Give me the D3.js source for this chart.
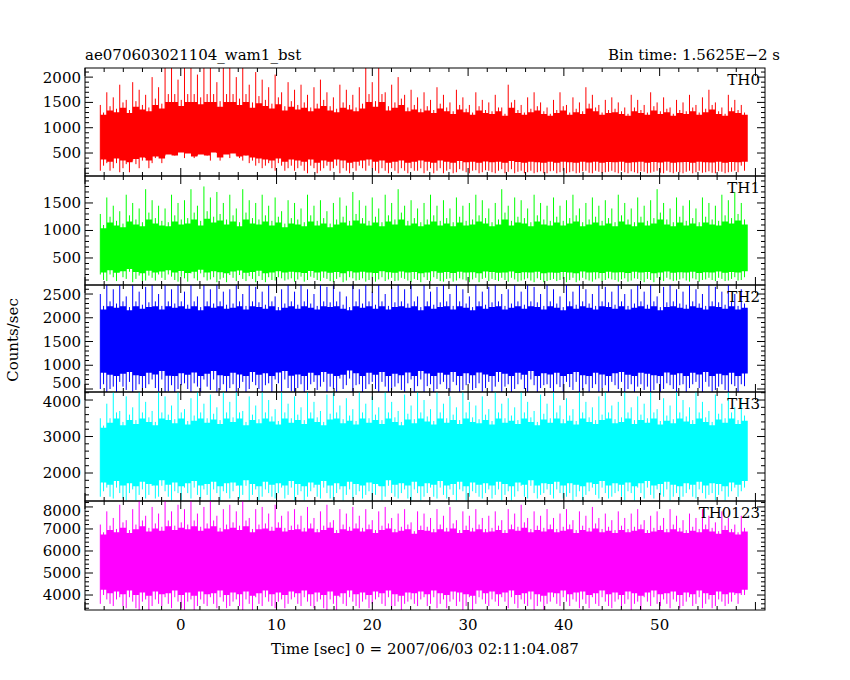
<!DOCTYPE html>
<html><head><meta charset="utf-8">
<script src="https://cdn.jsdelivr.net/npm/d3@7"></script>
<style>body{margin:0;background:#fff}text{font-family:"DejaVu Serif",serif;font-size:15px;fill:#000}</style>
</head><body><svg id="c" width="850" height="680"></svg>
<script>
const panelNames = ["TH0","TH1","TH2","TH3","TH0123"];
const panelColors = ["#ff0000","#00ff00","#0000ff","#00ffff","#ff00ff"];
const yDomains = [[46,2180],[9,1990],[437,2690],[1233,4220],[3320,8270]];
const yTicks = [[500,1000,1500,2000],[500,1000,1500],[500,1000,1500,2000,2500],[2000,3000,4000],[4000,5000,6000,7000,8000]];
const yMinorStep = [100,100,100,200,200];
const coreBands = [[450,1150],[330,900],[1000,2000],[1900,3100],[4400,6500]];
const xTicks = [0,10,20,30,40,50];
const tStart = -8.4, tStep = 0.676;
const hi0=[1450,1700,1600,1850,1550,1900,1750,1650,2000,1800,2180,2180,1950,2180,2180,2050,2180,2180,1900,2180,2180,2000,2180,1850,2100,1950,1800,2050,1700,1900,1750,1850,1650,1800,1950,1700,1600,1850,1750,1650,1800,2180,1900,2180,1700,1850,2000,1650,1750,1600,1700,1550,1800,1650,1500,1750,1600,1450,1700,1550,1500,1650,1400,1850,1550,1450,1600,1700,1500,1400,1550,1700,1450,1600,1500,1800,1650,1450,1550,1600,1500,1400,1650,1550,1450,1700,1500,1600,1400,1550,1500,1650,1450,1600,1750,1500,1400,1650,1550,1450];
const lo0=[250,150,300,200,120,280,350,200,400,300,500,450,600,550,400,500,450,600,350,500,550,400,450,350,300,250,200,300,150,250,200,150,250,100,200,150,250,200,100,150,200,250,150,200,100,150,200,100,150,200,150,100,200,150,100,180,120,150,100,160,120,150,100,180,130,100,150,120,100,140,100,150,120,100,140,110,150,100,130,120,150,100,120,140,100,130,110,150,100,120,130,100,150,120,110,140,100,130,120,150];
const hi1=[1300,1600,1450,1350,1650,1500,1400,1750,1550,1450,1400,1650,1500,1550,1750,1450,1800,1600,1700,1500,1650,1400,1750,1550,1500,1650,1450,1600,1350,1550,1500,1400,1650,1450,1550,1350,1500,1600,1450,1700,1550,1450,1600,1400,1650,1500,1750,1450,1550,1400,1500,1650,1450,1550,1400,1600,1450,1500,1650,1550,1400,1500,1750,1450,1600,1550,1400,1650,1500,1450,1600,1450,1550,1650,1400,1500,1600,1450,1550,1400,1650,1500,1400,1600,1450,1550,1750,1500,1400,1600,1450,1550,1400,1600,1500,1450,1650,1550,1700,1500];
const lo1=[100,200,80,150,250,120,60,180,90,140,200,100,160,70,130,220,90,150,110,60,140,190,80,120,170,60,100,150,90,130,110,70,160,100,140,80,120,60,150,90,130,100,70,150,110,80,140,90,120,60,100,150,80,120,70,130,90,110,60,140,120,80,100,140,70,110,90,130,60,100,80,120,100,60,140,90,110,70,130,100,110,70,130,90,120,60,100,140,80,110,90,130,70,110,100,140,80,120,90,150];
const hi2=[2500,2690,2600,2690,2450,2690,2550,2650,2690,2500,2690,2600,2690,2550,2690,2450,2690,2600,2690,2550,2600,2690,2500,2690,2650,2550,2690,2450,2600,2690,2550,2690,2600,2500,2690,2650,2690,2550,2450,2690,2600,2690,2550,2690,2500,2650,2690,2600,2690,2450,2690,2550,2650,2690,2500,2690,2600,2450,2690,2550,2650,2690,2500,2600,2690,2550,2690,2650,2500,2690,2600,2450,2690,2550,2690,2600,2500,2690,2650,2550,2690,2500,2600,2690,2550,2690,2450,2650,2690,2600,2550,2690,2600,2500,2690,2650,2550,2690,2500,2600];
const lo2=[600,500,437,550,650,480,437,600,520,700,450,437,580,500,620,437,550,700,480,437,600,520,437,650,500,580,437,620,700,450,520,437,600,480,650,550,437,500,720,580,437,600,500,650,437,550,480,620,437,700,560,437,600,500,650,437,580,480,620,520,437,650,550,437,600,500,700,437,580,520,600,437,540,650,480,437,600,520,437,580,650,500,437,600,550,480,437,620,500,580,437,600,520,650,437,550,480,600,437,560];
const hi3=[3500,3900,4220,3700,4100,3800,4220,3950,3700,4220,4100,3850,4220,3750,4050,4220,3900,4150,3800,4220,3950,4220,3700,4100,3850,4220,4000,3750,4220,3900,4100,3800,4220,3950,3700,4150,4220,3850,4050,3750,4220,3900,4100,3800,4220,3950,3700,4150,3850,4220,4000,3750,4220,3900,4100,3800,4220,3950,3850,4100,3750,4220,3900,4050,3800,4220,3950,3700,4150,3900,4220,3850,4050,3750,4220,3950,3800,4100,4220,3850,3950,4220,3800,4100,3900,4220,3750,4050,3850,4220,4000,3800,4220,3950,3700,4150,3900,4220,3800,4050];
const lo3=[1500,1350,1600,1300,1450,1250,1550,1400,1300,1650,1350,1500,1250,1450,1600,1300,1400,1550,1250,1450,1500,1300,1650,1400,1250,1550,1350,1450,1300,1600,1400,1250,1500,1350,1600,1300,1450,1250,1550,1400,1300,1500,1400,1250,1650,1350,1450,1300,1550,1250,1450,1350,1600,1300,1400,1550,1250,1500,1350,1450,1300,1550,1400,1250,1500,1350,1650,1300,1450,1400,1550,1300,1450,1350,1250,1500,1400,1600,1300,1450,1350,1500,1250,1450,1600,1300,1400,1550,1350,1250,1450,1350,1550,1300,1450,1400,1250,1500,1350,1600];
const hi4=[7200,7800,7500,8100,7400,7900,8270,7600,8000,7700,8270,7800,8100,7900,8270,7700,8000,8270,7600,7900,8100,7800,8270,7500,7900,8000,7700,8100,7600,7800,7900,7600,8000,7500,7800,8100,7400,7900,7700,8000,7600,7900,7400,7800,8000,7500,7700,7900,7300,7800,7700,7500,7900,7600,8000,7400,7800,7600,7900,7500,7600,7800,7400,7900,7700,8100,7500,7800,7600,7900,7500,7700,7900,7400,7800,7600,8000,7500,7700,7400,7800,7500,7700,7900,7400,7600,7800,7500,7900,7600,7400,7700,7500,7900,7600,7300,7800,7500,7200,7600];
const lo4=[4000,3600,3800,3500,3900,3400,3700,3320,3800,3500,3600,3900,3400,3700,3320,3800,3500,3600,3900,3400,3700,3500,3800,3320,3600,3900,3500,3700,3400,3800,3600,3900,3500,3700,3400,3800,3320,3600,3900,3500,3700,3400,3800,3600,3900,3500,3320,3700,3600,3800,3500,3900,3600,3400,3800,3700,3500,3320,3900,3600,3800,3500,3700,3900,3400,3600,3800,3500,3320,3700,3600,3900,3500,3700,3800,3400,3600,3900,3500,3700,3400,3800,3600,3320,3700,3900,3500,3600,3800,3400,3700,3500,3900,3600,3400,3800,3500,3700,3600,4000];
const highs=[hi0,hi1,hi2,hi3,hi4], lows=[lo0,lo1,lo2,lo3,lo4];

const svg=d3.select("#c");
const L=85,R=765;
const panelEdges=[68,176,285,392,501,610];
const x=d3.scaleLinear().domain([-10.0,61.0]).range([L,R]);
const xMinor=d3.range(-10,62,2);

panelNames.forEach((name,p)=>{
  const top=panelEdges[p], bot=panelEdges[p+1];
  const y=d3.scaleLinear().domain(yDomains[p]).range([bot,top]).clamp(true);
  const g=svg.append("g");
  const clipId="clip"+p;
  g.append("clipPath").attr("id",clipId).append("rect").attr("x",L).attr("y",top).attr("width",R-L).attr("height",bot-top);
  const d=g.append("g").attr("clip-path",`url(#${clipId})`);
  const n=highs[p].length, c=panelColors[p], cb=coreBands[p];
  const tEnd=tStart+tStep*n;
  highs[p].forEach((h,i)=>{
    const t=tStart+i*tStep;
    d.append("line").attr("x1",x(t)).attr("x2",x(t)).attr("y1",y(h)).attr("y2",y(lows[p][(i+1)%n])).attr("stroke",c).attr("stroke-width",1);
    d.append("line").attr("x1",x(t+tStep/2)).attr("x2",x(t+tStep/2)).attr("y1",y(lows[p][i])).attr("y2",y((h+cb[1])/2)).attr("stroke",c).attr("stroke-width",1);
  });
  const band=highs[p].map((h,i)=>({t:tStart+i*tStep,u:cb[1]+(h-cb[1])*0.35,l:cb[0]-(cb[0]-lows[p][i])*0.4}));
  band.push({t:tEnd,u:band[n-1].u,l:band[n-1].l});
  d.append("path").attr("d",d3.area().curve(d3.curveStepAfter).x(a=>x(a.t)).y0(a=>y(a.l)).y1(a=>y(a.u))(band)).attr("fill",c);
  g.append("rect").attr("x",L).attr("y",top).attr("width",R-L).attr("height",bot-top).attr("fill","none").attr("stroke","#000").attr("stroke-width",1);
  const ymin=d3.range(Math.ceil(yDomains[p][0]/yMinorStep[p])*yMinorStep[p],yDomains[p][1],yMinorStep[p]);
  ymin.forEach(v=>{const maj=yTicks[p].includes(v);const len=maj?8:4;
    g.append("line").attr("x1",L).attr("x2",L+len).attr("y1",y(v)).attr("y2",y(v)).attr("stroke","#000");
    g.append("line").attr("x1",R).attr("x2",R-len).attr("y1",y(v)).attr("y2",y(v)).attr("stroke","#000");});
  yTicks[p].forEach(v=>{const yy=Math.min(Math.max(y(v)+5,top+15),bot-4);
    g.append("text").attr("x",L-4).attr("y",yy).attr("text-anchor","end").attr("font-size",14).text(v);});
  xMinor.forEach(v=>{const maj=v%10===0;const len=maj?8:4;
    g.append("line").attr("x1",x(v)).attr("x2",x(v)).attr("y1",bot).attr("y2",bot-len).attr("stroke","#000");
    g.append("line").attr("x1",x(v)).attr("x2",x(v)).attr("y1",top).attr("y2",top+len).attr("stroke","#000");});
  g.append("text").attr("x",R-5).attr("y",top+17).attr("text-anchor","end").attr("font-size",14).text(name);
});
xTicks.forEach(v=>svg.append("text").attr("x",x(v)).attr("y",630).attr("text-anchor","middle").text(v));
svg.append("text").attr("x",425).attr("y",654).attr("text-anchor","middle").text("Time [sec] 0 = 2007/06/03 02:11:04.087");
svg.append("text").attr("x",85).attr("y",60).text("ae070603021104_wam1_bst");
svg.append("text").attr("x",780).attr("y",60).attr("text-anchor","end").text("Bin time: 1.5625E\u22122 s");
svg.append("text").attr("transform","translate(18,340) rotate(-90)").attr("text-anchor","middle").text("Counts/sec");
</script></body></html>
